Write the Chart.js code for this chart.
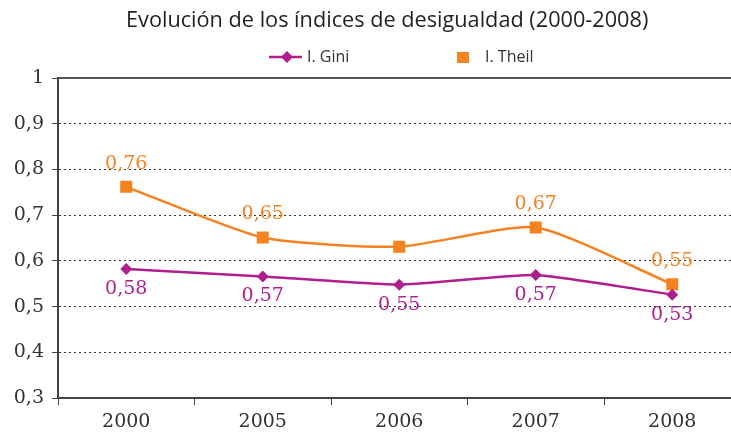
<!DOCTYPE html>
<html>
<head>
<meta charset="utf-8">
<script src="https://cdn.jsdelivr.net/npm/chart.js@4.4.0/dist/chart.umd.min.js"></script>
<style>
html, body { margin: 0; padding: 0; background: #fff; overflow: hidden; }
#wrap { position: relative; width: 749px; height: 433px; }
</style>
</head>
<body>
<div id="wrap"><canvas id="myChart"></canvas></div>
<script>
const years = ['2000', '2005', '2006', '2007', '2008'];
const gini = [0.582, 0.566, 0.548, 0.569, 0.526];
const theil = [0.762, 0.651, 0.631, 0.673, 0.549];
const giniLabels = ['0,58', '0,57', '0,55', '0,57', '0,53'];
const theilLabels = ['0,76', '0,65', '', '0,67', '0,55'];

const titleText = 'Evolución de los índices de desigualdad (2000-2008)';
const purple = '#AE1F8C';
const orange = '#F58220';
const numFont = { family: 'DejaVu Serif', size: 19 };

// value labels under / over the points
const valueLabels = {
    id: 'valueLabels',
    afterDatasetsDraw(chart) {
        const ctx = chart.ctx;
        ctx.save();
        ctx.font = numFont.size + 'px "' + numFont.family + '"';
        ctx.textAlign = 'center';
        ctx.textBaseline = 'middle';
        chart.data.datasets.forEach((ds, i) => {
            const meta = chart.getDatasetMeta(i);
            ctx.fillStyle = ds.borderColor;
            meta.data.forEach((pt, j) => {
                const txt = ds.valueLabels[j];
                if (!txt) return;
                ctx.fillText(txt, pt.x, pt.y + ds.labelOffset);
            });
        });
        ctx.restore();
    }
};

// title + legend drawn by hand (the original is not centred on the canvas)
const header = {
    id: 'header',
    afterDraw(chart) {
        const ctx = chart.ctx;
        ctx.save();
        ctx.fillStyle = '#231f20';
        ctx.font = '21.7px "Open Sans"';
        ctx.textBaseline = 'alphabetic';
        ctx.fillText(titleText, 126, 27);

        const y = 57;
        ctx.strokeStyle = purple;
        ctx.lineWidth = 2.5;
        ctx.beginPath();
        ctx.moveTo(269, y);
        ctx.lineTo(302, y);
        ctx.stroke();
        ctx.fillStyle = purple;
        ctx.beginPath();
        ctx.moveTo(287, y - 6);
        ctx.lineTo(293, y);
        ctx.lineTo(287, y + 6);
        ctx.lineTo(281, y);
        ctx.closePath();
        ctx.fill();

        ctx.fillStyle = orange;
        ctx.fillRect(457, y - 5, 12, 11);

        ctx.fillStyle = '#333';
        ctx.font = '16px "Open Sans"';
        ctx.textBaseline = 'middle';
        ctx.fillText('I. Gini', 307, y);
        ctx.fillText('I. Theil', 485, y);
        ctx.restore();
    }
};

const ctx = document.getElementById('myChart');
const myChart = new Chart(ctx, {
    type: 'line',
    data: {
        labels: years,
        datasets: [{
            label: 'I. Gini',
            data: gini,
            valueLabels: giniLabels,
            labelOffset: 20,
            borderColor: purple,
            backgroundColor: purple,
            borderWidth: 2.5,
            pointStyle: 'rectRot',
            pointRadius: 6,
            pointBorderWidth: 0,
            tension: 0.15
        }, {
            label: 'I. Theil',
            data: theil,
            valueLabels: theilLabels,
            labelOffset: -23,
            borderColor: orange,
            backgroundColor: orange,
            borderWidth: 2.5,
            pointStyle: 'rect',
            pointRadius: 8.5,
            pointBorderWidth: 0,
            tension: 0.2
        }]
    },
    options: {
        responsive: true,
        maintainAspectRatio: false,
        animation: false,
        devicePixelRatio: 1,
        layout: { padding: { top: 70, right: 1, left: 0, bottom: 0 } },
        plugins: {
            legend: { display: false },
            title: { display: false },
            tooltip: { enabled: false }
        },
        scales: {
            x: {
                offset: true,
                grid: { offset: true, drawOnChartArea: false, tickLength: 7, color: '#444', lineWidth: 1 },
                border: { color: '#444', width: 2 },
                ticks: { color: '#333', font: numFont, padding: 6 },
                afterFit: s => { s.height = 35; }
            },
            x2: {
                type: 'category',
                labels: years,
                position: 'top',
                grid: { display: false },
                ticks: { display: false },
                border: { color: '#555', width: 2 }
            },
            y: {
                min: 0.3,
                max: 1,
                ticks: {
                    stepSize: 0.1,
                    color: '#333',
                    font: numFont,
                    padding: 8,
                    callback: v => {
                        const r = Math.round(v * 10) / 10;
                        return r === 1 ? '1' : r.toFixed(1).replace('.', ',');
                    }
                },
                grid: { color: '#333', lineWidth: 1, tickLength: 6, tickColor: '#444' },
                border: { color: '#444', width: 2, dash: [2, 3] },
                afterFit: s => { s.width = 58; }
            }
        }
    },
    plugins: [valueLabels, header]
});
</script>
</body>
</html>
